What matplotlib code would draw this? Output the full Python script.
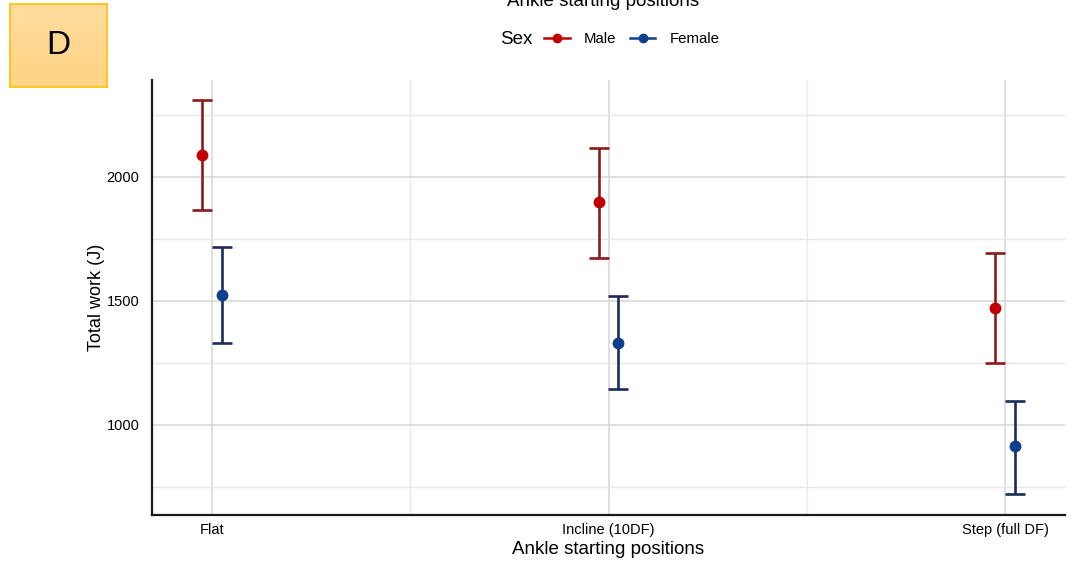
import matplotlib
matplotlib.use("Agg")
import matplotlib.pyplot as plt
import numpy as np
from matplotlib.lines import Line2D

plt.rcParams["font.family"] = ["Liberation Sans", "DejaVu Sans"]

# data
positions = ["Flat", "Incline (10DF)", "Step (full DF)"]
male_mean = [2089, 1899, 1472]
male_low = [1867, 1673, 1250]
male_high = [2310, 2117, 1694]
female_mean = [1524, 1331, 915]
female_low = [1331, 1145, 722]
female_high = [1718, 1520, 1097]

male_pt, male_bar = "#c00000", "#8b1a1a"
female_pt, female_bar = "#0b3f8f", "#1c2b5a"

W, H = 1077, 563
fig = plt.figure(figsize=(W / 100, H / 100), dpi=100)
ax = fig.add_axes([152 / W, 1 - 515 / H, (1065 - 152) / W, (515 - 80) / H])

x = np.arange(1, len(positions) + 1)
dodge = 0.025


def draw_group(xs, mean, low, high, pt, bar):
    mean = np.array(mean)
    yerr = [mean - np.array(low), np.array(high) - mean]
    ax.errorbar(xs, mean, yerr=yerr, fmt="none", ecolor=bar, elinewidth=1.9,
                capsize=7, capthick=1.9, zorder=3)
    ax.plot(xs, mean, "o", color=pt, markersize=7.5, zorder=4)


draw_group(x - dodge, male_mean, male_low, male_high, male_pt, male_bar)
draw_group(x + dodge, female_mean, female_low, female_high, female_pt, female_bar)

ax.set_xlim(0.849, 3.151)
ax.set_ylim(637, 2391)
ax.set_xticks(x)
ax.set_xticklabels(positions, fontsize=10)
ax.set_xticks([1.5, 2.5], minor=True)
ax.set_yticks([1000, 1500, 2000])
ax.set_yticks([750, 1250, 1750, 2250], minor=True)
ax.tick_params(axis="both", which="both", length=0, labelsize=10.5, colors="black")
ax.tick_params(axis="x", pad=6)
ax.tick_params(axis="y", pad=9)
ax.grid(True, which="major", color="#d6d6d6", linewidth=1.1, zorder=0)
ax.grid(True, which="minor", color="#e8e8e8", linewidth=1.0, zorder=0)
ax.set_axisbelow(True)

for s in ["top", "right"]:
    ax.spines[s].set_visible(False)
for s in ["left", "bottom"]:
    ax.spines[s].set_color("#1a1a1a")
    ax.spines[s].set_linewidth(1.6)

ax.set_xlabel("Ankle starting positions", fontsize=13.5, labelpad=3)
ax.set_ylabel("Total work (J)", fontsize=13, labelpad=1)

# clipped title at top, as in the reference
fig.text(603 / W, 1 - 6 / H, "Ankle starting positions", fontsize=13.5,
         ha="center", va="baseline")

# legend
fig.text(532 / W, 1 - 39 / H, "Sex", fontsize=13.5, ha="right", va="center")
handles = [
    Line2D([], [], color=male_pt, marker="o", markersize=6, linewidth=1.8),
    Line2D([], [], color=female_pt, marker="o", markersize=6, linewidth=1.8),
]
fig.legend(handles, ["Male", "Female"], loc="center left",
           bbox_to_anchor=(544 / W, 1 - 39 / H), ncol=2, frameon=False,
           fontsize=10.8, handlelength=1.7, handletextpad=0.95,
           columnspacing=0.9, borderpad=0, borderaxespad=0)

# panel letter box
box = fig.add_axes([10 / W, 1 - 87 / H, 97 / W, 83 / H])
grad = np.linspace(0, 1, 100).reshape(-1, 1)
box.imshow(grad, aspect="auto", extent=[0, 1, 0, 1],
           cmap=matplotlib.colors.LinearSegmentedColormap.from_list(
               "g", ["#ffdc9e", "#ffd486"]))
box.set_xticks([])
box.set_yticks([])
for s in box.spines.values():
    s.set_color("#ffc000")
    s.set_linewidth(1.2)
box.text(0.5, 0.5, "D", fontsize=24, ha="center", va="center",
         transform=box.transAxes)

fig.savefig("out.png", dpi=100)
